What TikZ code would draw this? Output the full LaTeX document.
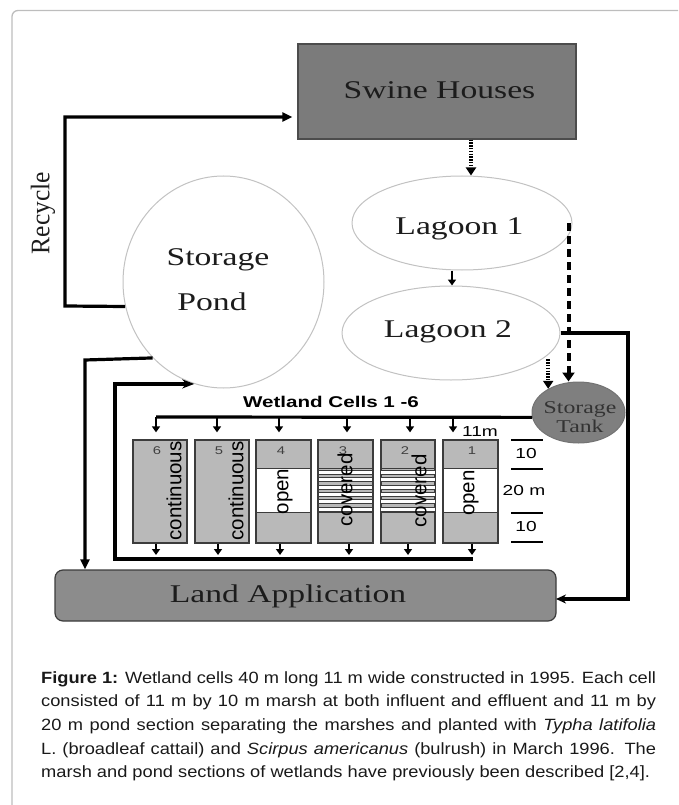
\documentclass[tikz,border=0pt]{standalone}
\usepackage{fontspec}
\setmainfont{Liberation Serif}
\setsansfont{Liberation Sans}
\usepackage{graphicx}
\usetikzlibrary{arrows.meta,shapes.geometric,calc}
\newcommand{\hx}[1]{\scalebox{1.32}[1]{#1}}
\newcommand{\ux}[1]{\scalebox{1.05}[1]{\rotatebox{90}{#1}}}
\definecolor{ellgray}{HTML}{C2C2C2}
\definecolor{swfill}{HTML}{7B7B7B}
\definecolor{lafill}{HTML}{8C8C8C}
\definecolor{tkfill}{HTML}{7F7F7F}
\definecolor{cellfill}{HTML}{B9B9B9}
\definecolor{cellline}{HTML}{3C3C3C}
\definecolor{framec}{HTML}{BDBDBD}
\definecolor{txtdark}{HTML}{1C1C1C}
\tikzset{
 serifl/.style={font=\fontsize{25.5}{30}\selectfont, text=txtdark, inner sep=0},
 tanktxt/.style={font=\fontsize{18}{20}\selectfont, text=black!80, inner sep=0, align=center},
 sansm/.style={font=\sffamily\fontsize{14.5}{16}\selectfont, inner sep=0},
 hdrtxt/.style={font=\sffamily\bfseries\fontsize{15.6}{17}\selectfont, inner sep=0},
 rotl/.style={font=\sffamily\fontsize{20.5}{22}\selectfont, inner sep=0},
 numl/.style={font=\sffamily\fontsize{11.2}{12}\selectfont, text=black!75, inner sep=0},
 ell/.style={ellipse, draw=ellgray, line width=1pt, fill=white, inner sep=0},
 cellbox/.style={rectangle, draw=cellline, line width=1.3pt, fill=cellfill, minimum width=53.5pt, minimum height=103pt, inner sep=0},
 cellln/.style={draw=cellline, line width=1.3pt},
 stripe/.style={fill=white, draw=cellline, line width=0.5pt},
 conn/.style={line width=3.2pt, line join=miter},
 cellarr/.style={line width=1.6pt, -{Triangle[length=6pt,width=8pt]}},
 dotarr/.style={line width=3.5pt, dash pattern=on 1.4pt off 1.4pt, -{Triangle[length=8pt,width=10pt]}},
 dasharr/.style={line width=4pt, dash pattern=on 8pt off 5pt, -{Triangle[length=9pt,width=12pt]}},
 capl/.style={font=\sffamily\fontsize{16.3}{19}\selectfont, anchor=base west, inner sep=0, text=black!90},
 dimln/.style={line width=1.2pt},
}
\begin{document}
\begin{tikzpicture}[x=1pt,y=-1pt]
\useasboundingbox (0,0) rectangle (678,805);
\clip (0,0) rectangle (678,805);
% page frame
\draw[framec, line width=1.3pt, rounded corners=6pt] (12,840) -- (12,10.5) -- (720,10.5);

% main shapes
\node[rectangle, draw=black!70, line width=1.2pt, fill=swfill, minimum width=278pt, minimum height=95pt, inner sep=0] (swine) at (437,91.5) {};
\node[serifl] (swinet) at (439.5,90) {\hx{Swine Houses}};

\node[ell, minimum width=201pt, minimum height=212pt] (pond) at (223.5,282) {};
\node[serifl] (pondt1) at (218,260) {\hx{Storage}};
\node[serifl] (pondt2) at (212,302) {\hx{Pond}};

\node[ell, minimum width=220pt, minimum height=94pt] (lag1) at (462,223) {};
\node[serifl] (lag1t) at (459.5,229) {\hx{Lagoon 1}};

\node[ell, minimum width=218pt, minimum height=94pt] (lag2) at (451,333) {};
\node[serifl] (lag2t) at (448,332) {\hx{Lagoon 2}};

\node[ellipse, draw=black!55, line width=1pt, fill=tkfill, minimum width=93pt, minimum height=61pt, inner sep=0] (tank) at (578.5,412.5) {};
\node[tanktxt] (tankt) at (580,417) {\hx{Storage}\\[-1pt]\hx{Tank}};

\node[rectangle, rounded corners=8pt, draw=cellline, line width=1.2pt, fill=lafill, minimum width=501pt, minimum height=51pt, inner sep=0] (landapp) at (305.5,595.5) {};
\node[serifl] (landt) at (288,596) {\hx{Land Application}};

\node[serifl] (recyt) at (43,213) {\ux{Recycle}};

% wetland cells
\foreach \n/\cx in {6/160,5/222,4/283.5,3/345.5,2/408,1/470.5}{
  \node[cellbox] (c\n) at (\cx,491.5) {};
}
\foreach \n in {4,1}{
  \draw[cellln, fill=white] ($(c\n.north west)+(0,29)$) rectangle ($(c\n.north east)+(0,73)$);
}
\foreach \n in {3,2}{
  \foreach \k in {0,...,5}{
    \draw[stripe] ($(c\n.north west)+(0,31+7.3*\k)$) rectangle ($(c\n.north east)+(0,35+7.3*\k)$);
  }
  \draw[cellln] ($(c\n.north west)+(0,29)$) -- ($(c\n.north east)+(0,29)$);
  \draw[cellln] ($(c\n.north west)+(0,73)$) -- ($(c\n.north east)+(0,73)$);
}
\foreach \n in {1,...,6}{
  \draw[cellln] (c\n.north west) rectangle (c\n.south east);
}
% cell numbers
\foreach \n/\nx in {6/157,5/219,4/281,3/343,2/405,1/472}{
  \node[numl] (n\n) at (\nx,451) {\hx{\n}};
}
% cell labels
\node[rotl] (l6) at (174,491) {\rotatebox{90}{continuous}};
\node[rotl] (l5) at (236,491) {\rotatebox{90}{continuous}};
\node[rotl] (l4) at (285,491.5) {\rotatebox{90}{open}};
\node[rotl] (l3) at (345,490) {\rotatebox{90}{covered}};
\node[rotl] (l2) at (419,491) {\rotatebox{90}{covered}};
\node[rotl] (l1) at (471,493) {\rotatebox{90}{open}};

\node[hdrtxt] (hdr) at (331,402) {\hx{Wetland Cells 1 -6}};
\node[sansm] (w11) at (480,432) {\hx{11m}};

% dimensions
\foreach \dy in {440,469,513,542}{
  \draw[dimln] (511,\dy) -- (543,\dy);
}
\node[sansm] (d1) at (526,454) {\hx{10}};
\node[sansm] (d2) at (524,491) {\hx{20 m}};
\node[sansm] (d3) at (526,527) {\hx{10}};

% connectors
\coordinate (rc1) at (65,306);
\coordinate (rc2) at (65,117);
\draw[conn, -{Triangle[length=10pt,width=9pt]}, shorten >=5pt] (pond.194) -- (rc1) -- (rc2) -- (rc2 -| swine.west);

\draw[dotarr] ([xshift=34pt]swine.south) -- ([xshift=9pt]lag1.north);
\draw[line width=2.2pt, -{Triangle[length=6pt,width=8pt]}] ([xshift=-10pt]lag1.south) -- ([xshift=1pt]lag2.north);

\coordinate (rr2) at (628,599);
\coordinate (laE) at (556,599);
\draw[conn, -{Stealth[length=10pt,width=9pt]}] (lag2.east) -| (rr2) -- (laE);

\draw[dasharr] ([xshift=-4pt]lag1.east) -- ([xshift=-10pt]tank.north);
\draw[dotarr, shorten <=4pt] (tank.142 |- lag2.347) -- (tank.142);

% header distribution
\foreach \n/\hx in {6/156,5/217,4/279,3/347,2/410,1/453}{
  \coordinate (h\n) at (\hx,417);
}
\draw[conn] (tank.186) -- (h6);
\foreach \n in {1,...,6}{
  \draw[cellarr, shorten >=7pt] (h\n) -- (h\n |- c\n.north);
}
% bottom collection
\foreach \n/\bx in {6/156,5/218,4/280,3/349,2/408,1/472}{
  \coordinate (b\n) at (\bx,559);
}
\foreach \n in {1,...,6}{
  \draw[cellarr, shorten >=4pt] (b\n |- c\n.south) -- (b\n);
}
\coordinate (bl) at (115,559);
\draw[conn, -{Stealth[length=12pt,width=9pt]}] ([xshift=0.8pt]b1) -- (bl) -- (bl |- pond.254) -- (pond.254);

\coordinate (pl) at (85,360);
\draw[conn, -{Triangle[length=10pt,width=9pt]}] (pond.227) -- (pl) -- (pl |- landapp.north);

% caption
\node[capl] (cap1) at (41,683) {\scalebox{1.12}[1]{\makebox[549pt][s]{\textbf{Figure 1:} Wetland cells 40 m long 11 m wide constructed in 1995. Each cell}}};
\node[capl] (cap2) at (41,706.7) {\scalebox{1.12}[1]{\makebox[549pt][s]{consisted of 11 m by 10 m marsh at both influent and effluent and 11 m by}}};
\node[capl] (cap3) at (41,730.4) {\scalebox{1.12}[1]{\makebox[549pt][s]{20 m pond section separating the marshes and planted with \textit{Typha latifolia}}}};
\node[capl] (cap4) at (41,754.1) {\scalebox{1.12}[1]{\makebox[549pt][s]{L. (broadleaf cattail) and \textit{Scirpus americanus} (bulrush) in March 1996. The}}};
\node[capl] (cap5) at (41,777.8) {\scalebox{1.12}[1]{marsh and pond sections of wetlands have previously been described [2,4].}};
\end{tikzpicture}
\end{document}
